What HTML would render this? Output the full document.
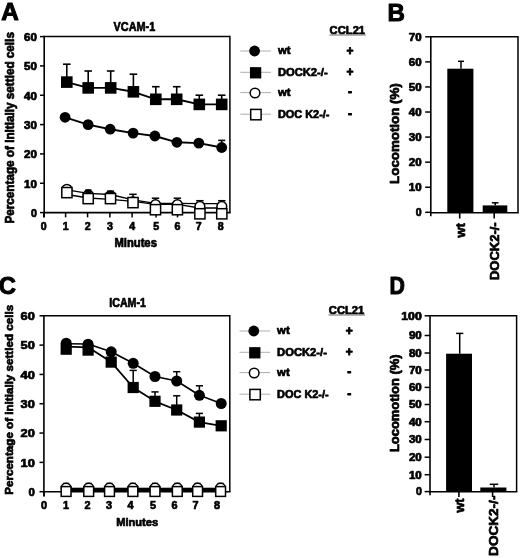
<!DOCTYPE html>
<html><head><meta charset="utf-8"><style>
html,body{margin:0;padding:0;background:#fff;}
svg{display:block;will-change:transform;}
text{font-family:"Liberation Sans", sans-serif;fill:#000;stroke:#000;stroke-width:0.7px;stroke-linejoin:round;}
</style></head><body>
<svg width="520" height="558" viewBox="0 0 520 558">
<rect width="520" height="558" fill="#fff"/>
<g>
<text x="1.2" y="20.4" font-size="24.5" font-weight="bold" text-anchor="start" textLength="17.6" lengthAdjust="spacingAndGlyphs" style="stroke-width:1px">A</text>
<text x="113.6" y="30.9" font-size="12.4" font-weight="bold" text-anchor="start" textLength="41.6" lengthAdjust="spacingAndGlyphs">VCAM-1</text>
<line x1="44.2" y1="36.6" x2="229.9" y2="36.6" stroke="#000" stroke-width="1.5"/>
<line x1="229.9" y1="35.85" x2="229.9" y2="212.6" stroke="#000" stroke-width="1.5"/>
<line x1="44.2" y1="35.85" x2="44.2" y2="217.2" stroke="#000" stroke-width="1.6"/>
<line x1="43.45" y1="212.6" x2="230.65" y2="212.6" stroke="#000" stroke-width="1.6"/>
<line x1="40.0" y1="212.6" x2="44.2" y2="212.6" stroke="#000" stroke-width="1.5"/>
<text x="37" y="217.0" font-size="10.6" font-weight="bold" text-anchor="end">0</text>
<line x1="40.0" y1="183.26666666666665" x2="44.2" y2="183.26666666666665" stroke="#000" stroke-width="1.5"/>
<text x="37" y="187.67" font-size="10.6" font-weight="bold" text-anchor="end" textLength="12.9" lengthAdjust="spacingAndGlyphs">10</text>
<line x1="40.0" y1="153.93333333333334" x2="44.2" y2="153.93333333333334" stroke="#000" stroke-width="1.5"/>
<text x="37" y="158.33" font-size="10.6" font-weight="bold" text-anchor="end" textLength="12.9" lengthAdjust="spacingAndGlyphs">20</text>
<line x1="40.0" y1="124.6" x2="44.2" y2="124.6" stroke="#000" stroke-width="1.5"/>
<text x="37" y="129.0" font-size="10.6" font-weight="bold" text-anchor="end" textLength="12.9" lengthAdjust="spacingAndGlyphs">30</text>
<line x1="40.0" y1="95.26666666666667" x2="44.2" y2="95.26666666666667" stroke="#000" stroke-width="1.5"/>
<text x="37" y="99.67" font-size="10.6" font-weight="bold" text-anchor="end" textLength="12.9" lengthAdjust="spacingAndGlyphs">40</text>
<line x1="40.0" y1="65.93333333333334" x2="44.2" y2="65.93333333333334" stroke="#000" stroke-width="1.5"/>
<text x="37" y="70.33" font-size="10.6" font-weight="bold" text-anchor="end" textLength="12.9" lengthAdjust="spacingAndGlyphs">50</text>
<line x1="40.0" y1="36.599999999999994" x2="44.2" y2="36.599999999999994" stroke="#000" stroke-width="1.5"/>
<text x="37" y="41.0" font-size="10.6" font-weight="bold" text-anchor="end" textLength="12.9" lengthAdjust="spacingAndGlyphs">60</text>
<line x1="43.8" y1="212.6" x2="43.8" y2="217.4" stroke="#000" stroke-width="1.5"/>
<text x="43.8" y="229.6" font-size="10.6" font-weight="bold" text-anchor="middle">0</text>
<line x1="65.6" y1="212.6" x2="65.6" y2="217.4" stroke="#000" stroke-width="1.5"/>
<text x="65.6" y="229.6" font-size="10.6" font-weight="bold" text-anchor="middle">1</text>
<line x1="87.6" y1="212.6" x2="87.6" y2="217.4" stroke="#000" stroke-width="1.5"/>
<text x="87.6" y="229.6" font-size="10.6" font-weight="bold" text-anchor="middle">2</text>
<line x1="109.9" y1="212.6" x2="109.9" y2="217.4" stroke="#000" stroke-width="1.5"/>
<text x="109.9" y="229.6" font-size="10.6" font-weight="bold" text-anchor="middle">3</text>
<line x1="132.1" y1="212.6" x2="132.1" y2="217.4" stroke="#000" stroke-width="1.5"/>
<text x="132.1" y="229.6" font-size="10.6" font-weight="bold" text-anchor="middle">4</text>
<line x1="156.1" y1="212.6" x2="156.1" y2="217.4" stroke="#000" stroke-width="1.5"/>
<text x="156.1" y="229.6" font-size="10.6" font-weight="bold" text-anchor="middle">5</text>
<line x1="177.5" y1="212.6" x2="177.5" y2="217.4" stroke="#000" stroke-width="1.5"/>
<text x="177.5" y="229.6" font-size="10.6" font-weight="bold" text-anchor="middle">6</text>
<line x1="198.6" y1="212.6" x2="198.6" y2="217.4" stroke="#000" stroke-width="1.5"/>
<text x="198.6" y="229.6" font-size="10.6" font-weight="bold" text-anchor="middle">7</text>
<line x1="220.6" y1="212.6" x2="220.6" y2="217.4" stroke="#000" stroke-width="1.5"/>
<text x="220.6" y="229.6" font-size="10.6" font-weight="bold" text-anchor="middle">8</text>
<text x="114.4" y="246.5" font-size="12" font-weight="bold" text-anchor="start" textLength="42.5" lengthAdjust="spacingAndGlyphs">Minutes</text>
<text transform="translate(14.1,223.6) rotate(-90)" font-size="12" font-weight="bold" text-anchor="start" textLength="191.5" lengthAdjust="spacingAndGlyphs">Percentage of initially settled cells</text>
<polyline points="66.9,189.9 88.2,193.4 110.5,194.5 133.0,199.8 155.5,203.3 177.4,203.3 199.9,203.7 221.8,203.7" fill="none" stroke="#000" stroke-width="1.3" stroke-linejoin="round"/>
<polyline points="66.9,194.5 88.2,198.0 110.5,199.3 133.0,201.3 155.5,204.4 177.4,204.4 199.9,208.0 221.8,208.0" fill="none" stroke="#000" stroke-width="1.3" stroke-linejoin="round"/>
<line x1="133.0" y1="202.0" x2="133.0" y2="194.3" stroke="#000" stroke-width="1.5"/>
<line x1="129.3" y1="194.3" x2="136.7" y2="194.3" stroke="#000" stroke-width="1.5"/>
<line x1="155.5" y1="204.7" x2="155.5" y2="198.2" stroke="#000" stroke-width="1.5"/>
<line x1="151.8" y1="198.2" x2="159.2" y2="198.2" stroke="#000" stroke-width="1.5"/>
<line x1="177.4" y1="204.7" x2="177.4" y2="198.2" stroke="#000" stroke-width="1.5"/>
<line x1="173.70000000000002" y1="198.2" x2="181.1" y2="198.2" stroke="#000" stroke-width="1.5"/>
<line x1="199.9" y1="206.4" x2="199.9" y2="200.7" stroke="#000" stroke-width="1.5"/>
<line x1="196.20000000000002" y1="200.7" x2="203.6" y2="200.7" stroke="#000" stroke-width="1.5"/>
<line x1="221.8" y1="206.4" x2="221.8" y2="200.7" stroke="#000" stroke-width="1.5"/>
<line x1="218.10000000000002" y1="200.7" x2="225.5" y2="200.7" stroke="#000" stroke-width="1.5"/>
<circle cx="66.9" cy="189.3" r="4.9" fill="#fff" stroke="#000" stroke-width="1.5"/>
<circle cx="88.2" cy="195.0" r="4.9" fill="#fff" stroke="#000" stroke-width="1.5"/>
<circle cx="110.5" cy="195.8" r="4.9" fill="#fff" stroke="#000" stroke-width="1.5"/>
<circle cx="133.0" cy="202.0" r="4.9" fill="#fff" stroke="#000" stroke-width="1.5"/>
<circle cx="155.5" cy="204.7" r="4.9" fill="#fff" stroke="#000" stroke-width="1.5"/>
<circle cx="177.4" cy="204.7" r="4.9" fill="#fff" stroke="#000" stroke-width="1.5"/>
<circle cx="199.9" cy="206.4" r="4.9" fill="#fff" stroke="#000" stroke-width="1.5"/>
<circle cx="221.8" cy="206.4" r="4.9" fill="#fff" stroke="#000" stroke-width="1.5"/>
<rect x="85.2" y="189.3" width="6.3" height="4" fill="#000"/>
<rect x="107.1" y="190.4" width="6.9" height="3" fill="#000"/>
<rect x="61.800000000000004" y="187.5" width="10.2" height="10.2" fill="#fff" stroke="#000" stroke-width="1.5"/>
<rect x="83.10000000000001" y="193.5" width="10.2" height="10.2" fill="#fff" stroke="#000" stroke-width="1.5"/>
<rect x="105.4" y="193.5" width="10.2" height="10.2" fill="#fff" stroke="#000" stroke-width="1.5"/>
<rect x="127.9" y="197.5" width="10.2" height="10.2" fill="#fff" stroke="#000" stroke-width="1.5"/>
<rect x="150.4" y="204.6" width="10.2" height="10.2" fill="#fff" stroke="#000" stroke-width="1.5"/>
<rect x="172.3" y="204.6" width="10.2" height="10.2" fill="#fff" stroke="#000" stroke-width="1.5"/>
<rect x="194.8" y="208.70000000000002" width="10.2" height="10.2" fill="#fff" stroke="#000" stroke-width="1.5"/>
<rect x="216.70000000000002" y="208.70000000000002" width="10.2" height="10.2" fill="#fff" stroke="#000" stroke-width="1.5"/>
<line x1="66.8" y1="82.1" x2="66.8" y2="64.2" stroke="#000" stroke-width="1.6"/>
<line x1="63.0" y1="64.2" x2="70.6" y2="64.2" stroke="#000" stroke-width="1.6"/>
<line x1="88.2" y1="87.9" x2="88.2" y2="71" stroke="#000" stroke-width="1.6"/>
<line x1="84.4" y1="71" x2="92.0" y2="71" stroke="#000" stroke-width="1.6"/>
<line x1="110.7" y1="87.9" x2="110.7" y2="71" stroke="#000" stroke-width="1.6"/>
<line x1="106.9" y1="71" x2="114.5" y2="71" stroke="#000" stroke-width="1.6"/>
<line x1="133.4" y1="91.8" x2="133.4" y2="74.2" stroke="#000" stroke-width="1.6"/>
<line x1="129.6" y1="74.2" x2="137.20000000000002" y2="74.2" stroke="#000" stroke-width="1.6"/>
<line x1="155.8" y1="99.3" x2="155.8" y2="86.7" stroke="#000" stroke-width="1.6"/>
<line x1="152.0" y1="86.7" x2="159.60000000000002" y2="86.7" stroke="#000" stroke-width="1.6"/>
<line x1="176.7" y1="99.3" x2="176.7" y2="86.7" stroke="#000" stroke-width="1.6"/>
<line x1="172.89999999999998" y1="86.7" x2="180.5" y2="86.7" stroke="#000" stroke-width="1.6"/>
<line x1="199.3" y1="104.4" x2="199.3" y2="95.2" stroke="#000" stroke-width="1.6"/>
<line x1="195.5" y1="95.2" x2="203.10000000000002" y2="95.2" stroke="#000" stroke-width="1.6"/>
<line x1="221.7" y1="104.4" x2="221.7" y2="95.2" stroke="#000" stroke-width="1.6"/>
<line x1="217.89999999999998" y1="95.2" x2="225.5" y2="95.2" stroke="#000" stroke-width="1.6"/>
<polyline points="66.8,82.1 88.2,87.9 110.7,87.9 133.4,91.8 155.8,99.3 176.7,99.3 199.3,104.4 221.7,104.4" fill="none" stroke="#000" stroke-width="1.9" stroke-linejoin="round"/>
<rect x="61.0" y="76.3" width="11.6" height="11.6" fill="#000"/>
<rect x="82.4" y="82.10000000000001" width="11.6" height="11.6" fill="#000"/>
<rect x="104.9" y="82.10000000000001" width="11.6" height="11.6" fill="#000"/>
<rect x="127.60000000000001" y="86.0" width="11.6" height="11.6" fill="#000"/>
<rect x="150.0" y="93.5" width="11.6" height="11.6" fill="#000"/>
<rect x="170.89999999999998" y="93.5" width="11.6" height="11.6" fill="#000"/>
<rect x="193.5" y="98.60000000000001" width="11.6" height="11.6" fill="#000"/>
<rect x="215.89999999999998" y="98.60000000000001" width="11.6" height="11.6" fill="#000"/>
<line x1="221.7" y1="147.5" x2="221.7" y2="140.4" stroke="#000" stroke-width="1.6"/>
<line x1="218.2" y1="140.4" x2="225.2" y2="140.4" stroke="#000" stroke-width="1.6"/>
<polyline points="65.1,117.3 88.1,124.6 110.2,129.2 133.1,133.1 154.9,136 176.9,142.3 198.8,143.1 221.7,147.5" fill="none" stroke="#000" stroke-width="1.9" stroke-linejoin="round"/>
<circle cx="65.1" cy="117.3" r="5.4" fill="#000"/>
<circle cx="88.1" cy="124.6" r="5.4" fill="#000"/>
<circle cx="110.2" cy="129.2" r="5.4" fill="#000"/>
<circle cx="133.1" cy="133.1" r="5.4" fill="#000"/>
<circle cx="154.9" cy="136" r="5.4" fill="#000"/>
<circle cx="176.9" cy="142.3" r="5.4" fill="#000"/>
<circle cx="198.8" cy="143.1" r="5.4" fill="#000"/>
<circle cx="221.7" cy="147.5" r="5.4" fill="#000"/>
</g>
<g transform="translate(0,0)">
<text x="329.6" y="34" font-size="11.2" font-weight="bold" text-anchor="start" textLength="35.5" lengthAdjust="spacingAndGlyphs">CCL21</text>
<line x1="329.4" y1="35" x2="365.8" y2="35" stroke="#555" stroke-width="0.9"/>
<line x1="240.3" y1="51" x2="271" y2="51" stroke="#999" stroke-width="0.8"/>
<circle cx="254.6" cy="51" r="5.4" fill="#000"/>
<text x="277.9" y="54.4" font-size="11.2" font-weight="bold" text-anchor="start" textLength="12.6" lengthAdjust="spacingAndGlyphs">wt</text>
<text x="350.1" y="55.1" font-size="12" font-weight="bold" text-anchor="middle" style="stroke-width:0.9px">+</text>
<line x1="240.3" y1="72.3" x2="271" y2="72.3" stroke="#999" stroke-width="0.8"/>
<rect x="249.95" y="67.14999999999999" width="11.3" height="11.3" fill="#000"/>
<text x="277.9" y="75.7" font-size="11.2" font-weight="bold" text-anchor="start" textLength="49.8" lengthAdjust="spacingAndGlyphs">DOCK2-/-</text>
<text x="350.1" y="76.4" font-size="12" font-weight="bold" text-anchor="middle" style="stroke-width:0.9px">+</text>
<line x1="240.3" y1="92.6" x2="271" y2="92.6" stroke="#999" stroke-width="0.8"/>
<circle cx="255" cy="93.0" r="4.8" fill="#fff" stroke="#000" stroke-width="1.5"/>
<text x="277.9" y="96.0" font-size="11.2" font-weight="bold" text-anchor="start" textLength="12.6" lengthAdjust="spacingAndGlyphs">wt</text>
<text x="350.1" y="96.1" font-size="12" font-weight="bold" text-anchor="middle" style="stroke-width:0.9px">-</text>
<line x1="240.3" y1="114.2" x2="271" y2="114.2" stroke="#999" stroke-width="0.8"/>
<rect x="250.70000000000002" y="109.4" width="10.4" height="10.4" fill="#fff" stroke="#000" stroke-width="1.5"/>
<text x="277.9" y="117.6" font-size="11.2" font-weight="bold" text-anchor="start" textLength="51.6" lengthAdjust="spacingAndGlyphs">DOC K2-/-</text>
<text x="350.1" y="117.7" font-size="12" font-weight="bold" text-anchor="middle" style="stroke-width:0.9px">-</text>
</g>
<line x1="430.8" y1="36.8" x2="518.0" y2="36.8" stroke="#000" stroke-width="1.5"/>
<line x1="518.0" y1="36.05" x2="518.0" y2="212.8" stroke="#000" stroke-width="1.5"/>
<line x1="430.8" y1="36.05" x2="430.8" y2="216.3" stroke="#000" stroke-width="1.6"/>
<line x1="430.05" y1="212.8" x2="518.75" y2="212.8" stroke="#000" stroke-width="1.6"/>
<line x1="425.2" y1="212.3" x2="430.8" y2="212.3" stroke="#000" stroke-width="1.5"/>
<text x="421.6" y="216.1" font-size="10.6" font-weight="bold" text-anchor="end">0</text>
<line x1="425.2" y1="187.23000000000002" x2="430.8" y2="187.23000000000002" stroke="#000" stroke-width="1.5"/>
<text x="421.6" y="191.03" font-size="10.6" font-weight="bold" text-anchor="end" textLength="12.9" lengthAdjust="spacingAndGlyphs">10</text>
<line x1="425.2" y1="162.16000000000003" x2="430.8" y2="162.16000000000003" stroke="#000" stroke-width="1.5"/>
<text x="421.6" y="165.96" font-size="10.6" font-weight="bold" text-anchor="end" textLength="12.9" lengthAdjust="spacingAndGlyphs">20</text>
<line x1="425.2" y1="137.09" x2="430.8" y2="137.09" stroke="#000" stroke-width="1.5"/>
<text x="421.6" y="140.89" font-size="10.6" font-weight="bold" text-anchor="end" textLength="12.9" lengthAdjust="spacingAndGlyphs">30</text>
<line x1="425.2" y1="112.02000000000001" x2="430.8" y2="112.02000000000001" stroke="#000" stroke-width="1.5"/>
<text x="421.6" y="115.82" font-size="10.6" font-weight="bold" text-anchor="end" textLength="12.9" lengthAdjust="spacingAndGlyphs">40</text>
<line x1="425.2" y1="86.95000000000002" x2="430.8" y2="86.95000000000002" stroke="#000" stroke-width="1.5"/>
<text x="421.6" y="90.75" font-size="10.6" font-weight="bold" text-anchor="end" textLength="12.9" lengthAdjust="spacingAndGlyphs">50</text>
<line x1="425.2" y1="61.879999999999995" x2="430.8" y2="61.879999999999995" stroke="#000" stroke-width="1.5"/>
<text x="421.6" y="65.68" font-size="10.6" font-weight="bold" text-anchor="end" textLength="12.9" lengthAdjust="spacingAndGlyphs">60</text>
<line x1="425.2" y1="36.81" x2="430.8" y2="36.81" stroke="#000" stroke-width="1.5"/>
<text x="421.6" y="40.61" font-size="10.6" font-weight="bold" text-anchor="end" textLength="12.9" lengthAdjust="spacingAndGlyphs">70</text>
<text x="387.4" y="20.6" font-size="24.5" font-weight="bold" text-anchor="start" textLength="17.4" lengthAdjust="spacingAndGlyphs" style="stroke-width:1px">B</text>
<rect x="447.3" y="68.7" width="26.1" height="144" fill="#000"/>
<line x1="461" y1="68.7" x2="461" y2="61.3" stroke="#000" stroke-width="1.5"/>
<line x1="458.0" y1="61.3" x2="464.0" y2="61.3" stroke="#000" stroke-width="1.5"/>
<rect x="482.7" y="205.4" width="24.6" height="7.5" fill="#000"/>
<line x1="495.2" y1="205.4" x2="495.2" y2="202.8" stroke="#000" stroke-width="1.5"/>
<line x1="491.9" y1="202.8" x2="498.5" y2="202.8" stroke="#000" stroke-width="1.5"/>
<line x1="459.7" y1="212.8" x2="459.7" y2="218.5" stroke="#000" stroke-width="1.6"/>
<line x1="494.2" y1="212.8" x2="494.2" y2="218.5" stroke="#000" stroke-width="1.6"/>
<text transform="translate(464.6,237.4) rotate(-90)" font-size="12.5" font-weight="bold" text-anchor="start" textLength="14.3" lengthAdjust="spacingAndGlyphs">wt</text>
<text transform="translate(498.6,280) rotate(-90)" font-size="13" font-weight="bold" text-anchor="start" textLength="57.7" lengthAdjust="spacingAndGlyphs">DOCK2-/-</text>
<text transform="translate(399.2,183.9) rotate(-90)" font-size="12.2" font-weight="bold" text-anchor="start" textLength="100.7" lengthAdjust="spacingAndGlyphs">Locomotion (%)</text>
<g transform="translate(0,279.2)">
<text x="-1.2" y="14.600000000000023" font-size="24.5" font-weight="bold" text-anchor="start" textLength="17.2" lengthAdjust="spacingAndGlyphs" style="stroke-width:1px">C</text>
<text x="109.3" y="27.69999999999999" font-size="12.2" font-weight="bold" text-anchor="start" textLength="36.6" lengthAdjust="spacingAndGlyphs">ICAM-1</text>
</g>
<line x1="43.9" y1="315.8" x2="229.8" y2="315.8" stroke="#000" stroke-width="1.5"/>
<line x1="229.8" y1="315.05" x2="229.8" y2="491.7" stroke="#000" stroke-width="1.5"/>
<line x1="43.9" y1="315.05" x2="43.9" y2="496.3" stroke="#000" stroke-width="1.6"/>
<line x1="43.15" y1="491.7" x2="230.55" y2="491.7" stroke="#000" stroke-width="1.6"/>
<line x1="39.5" y1="491.7" x2="43.9" y2="491.7" stroke="#000" stroke-width="1.5"/>
<text x="34.9" y="495.9" font-size="11.4" font-weight="bold" text-anchor="end">0</text>
<line x1="39.5" y1="462.3833333333333" x2="43.9" y2="462.3833333333333" stroke="#000" stroke-width="1.5"/>
<text x="34.9" y="466.58" font-size="11.4" font-weight="bold" text-anchor="end" textLength="14.3" lengthAdjust="spacingAndGlyphs">10</text>
<line x1="39.5" y1="433.06666666666666" x2="43.9" y2="433.06666666666666" stroke="#000" stroke-width="1.5"/>
<text x="34.9" y="437.27" font-size="11.4" font-weight="bold" text-anchor="end" textLength="14.3" lengthAdjust="spacingAndGlyphs">20</text>
<line x1="39.5" y1="403.75" x2="43.9" y2="403.75" stroke="#000" stroke-width="1.5"/>
<text x="34.9" y="407.95" font-size="11.4" font-weight="bold" text-anchor="end" textLength="14.3" lengthAdjust="spacingAndGlyphs">30</text>
<line x1="39.5" y1="374.43333333333334" x2="43.9" y2="374.43333333333334" stroke="#000" stroke-width="1.5"/>
<text x="34.9" y="378.63" font-size="11.4" font-weight="bold" text-anchor="end" textLength="14.3" lengthAdjust="spacingAndGlyphs">40</text>
<line x1="39.5" y1="345.1166666666667" x2="43.9" y2="345.1166666666667" stroke="#000" stroke-width="1.5"/>
<text x="34.9" y="349.32" font-size="11.4" font-weight="bold" text-anchor="end" textLength="14.3" lengthAdjust="spacingAndGlyphs">50</text>
<line x1="39.5" y1="315.8" x2="43.9" y2="315.8" stroke="#000" stroke-width="1.5"/>
<text x="34.9" y="320.0" font-size="11.4" font-weight="bold" text-anchor="end" textLength="14.3" lengthAdjust="spacingAndGlyphs">60</text>
<line x1="44.0" y1="491.7" x2="44.0" y2="496.5" stroke="#000" stroke-width="1.5"/>
<text x="44.0" y="508.6" font-size="10.8" font-weight="bold" text-anchor="middle">0</text>
<line x1="66.0" y1="491.7" x2="66.0" y2="496.5" stroke="#000" stroke-width="1.5"/>
<text x="66.0" y="508.6" font-size="10.8" font-weight="bold" text-anchor="middle">1</text>
<line x1="87.4" y1="491.7" x2="87.4" y2="496.5" stroke="#000" stroke-width="1.5"/>
<text x="87.4" y="508.6" font-size="10.8" font-weight="bold" text-anchor="middle">2</text>
<line x1="108.9" y1="491.7" x2="108.9" y2="496.5" stroke="#000" stroke-width="1.5"/>
<text x="108.9" y="508.6" font-size="10.8" font-weight="bold" text-anchor="middle">3</text>
<line x1="130.5" y1="491.7" x2="130.5" y2="496.5" stroke="#000" stroke-width="1.5"/>
<text x="130.5" y="508.6" font-size="10.8" font-weight="bold" text-anchor="middle">4</text>
<line x1="152.9" y1="491.7" x2="152.9" y2="496.5" stroke="#000" stroke-width="1.5"/>
<text x="152.9" y="508.6" font-size="10.8" font-weight="bold" text-anchor="middle">5</text>
<line x1="174.4" y1="491.7" x2="174.4" y2="496.5" stroke="#000" stroke-width="1.5"/>
<text x="174.4" y="508.6" font-size="10.8" font-weight="bold" text-anchor="middle">6</text>
<line x1="195.5" y1="491.7" x2="195.5" y2="496.5" stroke="#000" stroke-width="1.5"/>
<text x="195.5" y="508.6" font-size="10.8" font-weight="bold" text-anchor="middle">7</text>
<line x1="216.9" y1="491.7" x2="216.9" y2="496.5" stroke="#000" stroke-width="1.5"/>
<text x="216.9" y="508.6" font-size="10.8" font-weight="bold" text-anchor="middle">8</text>
<text x="116.2" y="526" font-size="11.5" font-weight="bold" text-anchor="start" textLength="42" lengthAdjust="spacingAndGlyphs">Minutes</text>
<text transform="translate(13.2,494.8) rotate(-90)" font-size="11.6" font-weight="bold" text-anchor="start" textLength="189.9" lengthAdjust="spacingAndGlyphs">Percentage of initially settled cells</text>
<rect x="66" y="487.7" width="156" height="3.6" fill="#000"/>
<line x1="66.1" y1="488.0" x2="66.1" y2="483.4" stroke="#000" stroke-width="1.5"/>
<line x1="63.099999999999994" y1="483.4" x2="69.1" y2="483.4" stroke="#000" stroke-width="1.5"/>
<circle cx="66.1" cy="488.0" r="4.8" fill="#fff" stroke="#000" stroke-width="1.5"/>
<line x1="88.7" y1="488.0" x2="88.7" y2="483.4" stroke="#000" stroke-width="1.5"/>
<line x1="85.7" y1="483.4" x2="91.7" y2="483.4" stroke="#000" stroke-width="1.5"/>
<circle cx="88.7" cy="488.0" r="4.8" fill="#fff" stroke="#000" stroke-width="1.5"/>
<line x1="109.5" y1="488.0" x2="109.5" y2="483.4" stroke="#000" stroke-width="1.5"/>
<line x1="106.5" y1="483.4" x2="112.5" y2="483.4" stroke="#000" stroke-width="1.5"/>
<circle cx="109.5" cy="488.0" r="4.8" fill="#fff" stroke="#000" stroke-width="1.5"/>
<line x1="132.9" y1="488.0" x2="132.9" y2="483.4" stroke="#000" stroke-width="1.5"/>
<line x1="129.9" y1="483.4" x2="135.9" y2="483.4" stroke="#000" stroke-width="1.5"/>
<circle cx="132.9" cy="488.0" r="4.8" fill="#fff" stroke="#000" stroke-width="1.5"/>
<line x1="155.0" y1="488.0" x2="155.0" y2="483.4" stroke="#000" stroke-width="1.5"/>
<line x1="152.0" y1="483.4" x2="158.0" y2="483.4" stroke="#000" stroke-width="1.5"/>
<circle cx="155.0" cy="488.0" r="4.8" fill="#fff" stroke="#000" stroke-width="1.5"/>
<line x1="177.3" y1="488.0" x2="177.3" y2="483.4" stroke="#000" stroke-width="1.5"/>
<line x1="174.3" y1="483.4" x2="180.3" y2="483.4" stroke="#000" stroke-width="1.5"/>
<circle cx="177.3" cy="488.0" r="4.8" fill="#fff" stroke="#000" stroke-width="1.5"/>
<line x1="197.6" y1="488.0" x2="197.6" y2="483.4" stroke="#000" stroke-width="1.5"/>
<line x1="194.6" y1="483.4" x2="200.6" y2="483.4" stroke="#000" stroke-width="1.5"/>
<circle cx="197.6" cy="488.0" r="4.8" fill="#fff" stroke="#000" stroke-width="1.5"/>
<line x1="220.6" y1="488.0" x2="220.6" y2="483.4" stroke="#000" stroke-width="1.5"/>
<line x1="217.6" y1="483.4" x2="223.6" y2="483.4" stroke="#000" stroke-width="1.5"/>
<circle cx="220.6" cy="488.0" r="4.8" fill="#fff" stroke="#000" stroke-width="1.5"/>
<rect x="61.199999999999996" y="486.6" width="9.8" height="9.8" fill="#fff" stroke="#000" stroke-width="1.5"/>
<rect x="83.8" y="486.6" width="9.8" height="9.8" fill="#fff" stroke="#000" stroke-width="1.5"/>
<rect x="104.6" y="486.6" width="9.8" height="9.8" fill="#fff" stroke="#000" stroke-width="1.5"/>
<rect x="128.0" y="486.6" width="9.8" height="9.8" fill="#fff" stroke="#000" stroke-width="1.5"/>
<rect x="150.1" y="486.6" width="9.8" height="9.8" fill="#fff" stroke="#000" stroke-width="1.5"/>
<rect x="172.4" y="486.6" width="9.8" height="9.8" fill="#fff" stroke="#000" stroke-width="1.5"/>
<rect x="192.7" y="486.6" width="9.8" height="9.8" fill="#fff" stroke="#000" stroke-width="1.5"/>
<rect x="215.7" y="486.6" width="9.8" height="9.8" fill="#fff" stroke="#000" stroke-width="1.5"/>
<line x1="133.2" y1="387.5" x2="133.2" y2="370.4" stroke="#000" stroke-width="1.5"/>
<line x1="129.6" y1="370.4" x2="136.79999999999998" y2="370.4" stroke="#000" stroke-width="1.5"/>
<line x1="155" y1="401.3" x2="155" y2="391.9" stroke="#000" stroke-width="1.5"/>
<line x1="151.4" y1="391.9" x2="158.6" y2="391.9" stroke="#000" stroke-width="1.5"/>
<line x1="176.7" y1="410" x2="176.7" y2="395.8" stroke="#000" stroke-width="1.5"/>
<line x1="173.1" y1="395.8" x2="180.29999999999998" y2="395.8" stroke="#000" stroke-width="1.5"/>
<line x1="199.4" y1="422.1" x2="199.4" y2="413.4" stroke="#000" stroke-width="1.5"/>
<line x1="195.8" y1="413.4" x2="203.0" y2="413.4" stroke="#000" stroke-width="1.5"/>
<line x1="176.7" y1="381" x2="176.7" y2="371.7" stroke="#000" stroke-width="1.5"/>
<line x1="173.1" y1="371.7" x2="180.29999999999998" y2="371.7" stroke="#000" stroke-width="1.5"/>
<line x1="199.4" y1="395.3" x2="199.4" y2="385.8" stroke="#000" stroke-width="1.5"/>
<line x1="195.8" y1="385.8" x2="203.0" y2="385.8" stroke="#000" stroke-width="1.5"/>
<polyline points="66.2,346.7 88.1,347.3 111.2,362.1 133.2,387.5 155,401.3 176.7,410 199.4,422.1 221.2,425.8" fill="none" stroke="#000" stroke-width="1.8" stroke-linejoin="round"/>
<polyline points="66.2,343.7 88.1,344.0 111.2,351.8 133.2,363.3 155,376.5 176.7,381 199.4,395.3 221.2,403.5" fill="none" stroke="#000" stroke-width="1.6" stroke-linejoin="round"/>
<rect x="60.6" y="343.59999999999997" width="11.2" height="11.2" fill="#000"/>
<rect x="82.5" y="344.5" width="11.2" height="11.2" fill="#000"/>
<rect x="105.60000000000001" y="356.5" width="11.2" height="11.2" fill="#000"/>
<rect x="127.6" y="381.9" width="11.2" height="11.2" fill="#000"/>
<rect x="149.4" y="395.7" width="11.2" height="11.2" fill="#000"/>
<rect x="171.1" y="404.4" width="11.2" height="11.2" fill="#000"/>
<rect x="193.8" y="416.5" width="11.2" height="11.2" fill="#000"/>
<rect x="215.6" y="420.2" width="11.2" height="11.2" fill="#000"/>
<circle cx="66.2" cy="343.2" r="5.5" fill="#000"/>
<circle cx="88.1" cy="344.2" r="5.5" fill="#000"/>
<circle cx="111.2" cy="351.8" r="5.5" fill="#000"/>
<circle cx="133.2" cy="363.3" r="5.5" fill="#000"/>
<circle cx="155" cy="376.5" r="5.5" fill="#000"/>
<circle cx="176.7" cy="381" r="5.5" fill="#000"/>
<circle cx="199.4" cy="395.3" r="5.5" fill="#000"/>
<circle cx="221.2" cy="403.5" r="5.5" fill="#000"/>
<g transform="translate(-0.8,280)">
<text x="329.6" y="34" font-size="11.2" font-weight="bold" text-anchor="start" textLength="35.5" lengthAdjust="spacingAndGlyphs">CCL21</text>
<line x1="329.4" y1="35" x2="365.8" y2="35" stroke="#555" stroke-width="0.9"/>
<line x1="240.3" y1="51" x2="271" y2="51" stroke="#999" stroke-width="0.8"/>
<circle cx="254.6" cy="51" r="5.4" fill="#000"/>
<text x="277.9" y="54.4" font-size="11.2" font-weight="bold" text-anchor="start" textLength="12.6" lengthAdjust="spacingAndGlyphs">wt</text>
<text x="350.1" y="55.1" font-size="12" font-weight="bold" text-anchor="middle" style="stroke-width:0.9px">+</text>
<line x1="240.3" y1="72.3" x2="271" y2="72.3" stroke="#999" stroke-width="0.8"/>
<rect x="249.95" y="67.14999999999999" width="11.3" height="11.3" fill="#000"/>
<text x="277.9" y="75.7" font-size="11.2" font-weight="bold" text-anchor="start" textLength="49.8" lengthAdjust="spacingAndGlyphs">DOCK2-/-</text>
<text x="350.1" y="76.4" font-size="12" font-weight="bold" text-anchor="middle" style="stroke-width:0.9px">+</text>
<line x1="240.3" y1="92.6" x2="271" y2="92.6" stroke="#999" stroke-width="0.8"/>
<circle cx="255" cy="93.0" r="4.8" fill="#fff" stroke="#000" stroke-width="1.5"/>
<text x="277.9" y="96.0" font-size="11.2" font-weight="bold" text-anchor="start" textLength="12.6" lengthAdjust="spacingAndGlyphs">wt</text>
<text x="350.1" y="96.1" font-size="12" font-weight="bold" text-anchor="middle" style="stroke-width:0.9px">-</text>
<line x1="240.3" y1="114.2" x2="271" y2="114.2" stroke="#999" stroke-width="0.8"/>
<rect x="250.70000000000002" y="109.4" width="10.4" height="10.4" fill="#fff" stroke="#000" stroke-width="1.5"/>
<text x="277.9" y="117.6" font-size="11.2" font-weight="bold" text-anchor="start" textLength="51.6" lengthAdjust="spacingAndGlyphs">DOC K2-/-</text>
<text x="350.1" y="117.7" font-size="12" font-weight="bold" text-anchor="middle" style="stroke-width:0.9px">-</text>
</g>
<line x1="430.0" y1="315.7" x2="516.6" y2="315.7" stroke="#000" stroke-width="1.5"/>
<line x1="516.6" y1="314.95" x2="516.6" y2="491.8" stroke="#000" stroke-width="1.5"/>
<line x1="430.0" y1="314.95" x2="430.0" y2="495.3" stroke="#000" stroke-width="1.6"/>
<line x1="429.25" y1="491.8" x2="517.35" y2="491.8" stroke="#000" stroke-width="1.6"/>
<line x1="424.6" y1="491.6" x2="430.0" y2="491.6" stroke="#000" stroke-width="1.5"/>
<text x="421.8" y="495.4" font-size="10.6" font-weight="bold" text-anchor="end">0</text>
<line x1="424.6" y1="474.7" x2="430.0" y2="474.7" stroke="#000" stroke-width="1.5"/>
<text x="421.8" y="478.5" font-size="10.6" font-weight="bold" text-anchor="end" textLength="12.9" lengthAdjust="spacingAndGlyphs">10</text>
<line x1="424.6" y1="457.2" x2="430.0" y2="457.2" stroke="#000" stroke-width="1.5"/>
<text x="421.8" y="461.0" font-size="10.6" font-weight="bold" text-anchor="end" textLength="12.9" lengthAdjust="spacingAndGlyphs">20</text>
<line x1="424.6" y1="439.5" x2="430.0" y2="439.5" stroke="#000" stroke-width="1.5"/>
<text x="421.8" y="443.3" font-size="10.6" font-weight="bold" text-anchor="end" textLength="12.9" lengthAdjust="spacingAndGlyphs">30</text>
<line x1="424.6" y1="421.7" x2="430.0" y2="421.7" stroke="#000" stroke-width="1.5"/>
<text x="421.8" y="425.5" font-size="10.6" font-weight="bold" text-anchor="end" textLength="12.9" lengthAdjust="spacingAndGlyphs">40</text>
<line x1="424.6" y1="404.5" x2="430.0" y2="404.5" stroke="#000" stroke-width="1.5"/>
<text x="421.8" y="408.3" font-size="10.6" font-weight="bold" text-anchor="end" textLength="12.9" lengthAdjust="spacingAndGlyphs">50</text>
<line x1="424.6" y1="387.4" x2="430.0" y2="387.4" stroke="#000" stroke-width="1.5"/>
<text x="421.8" y="391.2" font-size="10.6" font-weight="bold" text-anchor="end" textLength="12.9" lengthAdjust="spacingAndGlyphs">60</text>
<line x1="424.6" y1="370.0" x2="430.0" y2="370.0" stroke="#000" stroke-width="1.5"/>
<text x="421.8" y="373.8" font-size="10.6" font-weight="bold" text-anchor="end" textLength="12.9" lengthAdjust="spacingAndGlyphs">70</text>
<line x1="424.6" y1="353.0" x2="430.0" y2="353.0" stroke="#000" stroke-width="1.5"/>
<text x="421.8" y="356.8" font-size="10.6" font-weight="bold" text-anchor="end" textLength="12.9" lengthAdjust="spacingAndGlyphs">80</text>
<line x1="424.6" y1="335.5" x2="430.0" y2="335.5" stroke="#000" stroke-width="1.5"/>
<text x="421.8" y="339.3" font-size="10.6" font-weight="bold" text-anchor="end" textLength="12.9" lengthAdjust="spacingAndGlyphs">90</text>
<line x1="424.6" y1="315.8" x2="430.0" y2="315.8" stroke="#000" stroke-width="1.5"/>
<text x="421.8" y="319.6" font-size="10.6" font-weight="bold" text-anchor="end" textLength="20.6" lengthAdjust="spacingAndGlyphs">100</text>
<text x="389.4" y="294.1" font-size="24.5" font-weight="bold" text-anchor="start" textLength="15.4" lengthAdjust="spacingAndGlyphs" style="stroke-width:1px">D</text>
<rect x="446.1" y="353.7" width="25.9" height="138" fill="#000"/>
<line x1="459.7" y1="353.7" x2="459.7" y2="333.4" stroke="#000" stroke-width="1.5"/>
<line x1="456.09999999999997" y1="333.4" x2="463.3" y2="333.4" stroke="#000" stroke-width="1.5"/>
<rect x="480.3" y="487.5" width="26.1" height="4.3" fill="#000"/>
<line x1="494" y1="487.5" x2="494" y2="484.3" stroke="#000" stroke-width="1.5"/>
<line x1="489.75" y1="484.3" x2="498.25" y2="484.3" stroke="#000" stroke-width="1.5"/>
<line x1="458.9" y1="491.8" x2="458.9" y2="497" stroke="#000" stroke-width="1.6"/>
<line x1="492.6" y1="491.8" x2="492.6" y2="497" stroke="#000" stroke-width="1.6"/>
<text transform="translate(463.8,512.6) rotate(-90)" font-size="12.5" font-weight="bold" text-anchor="start" textLength="14.1" lengthAdjust="spacingAndGlyphs">wt</text>
<text transform="translate(498.2,555.9) rotate(-90)" font-size="13" font-weight="bold" text-anchor="start" textLength="60.3" lengthAdjust="spacingAndGlyphs">DOCK2-/-</text>
<text transform="translate(398.6,452.1) rotate(-90)" font-size="12" font-weight="bold" text-anchor="start" textLength="97.7" lengthAdjust="spacingAndGlyphs">Locomotion (%)</text>
</svg>
</body></html>
